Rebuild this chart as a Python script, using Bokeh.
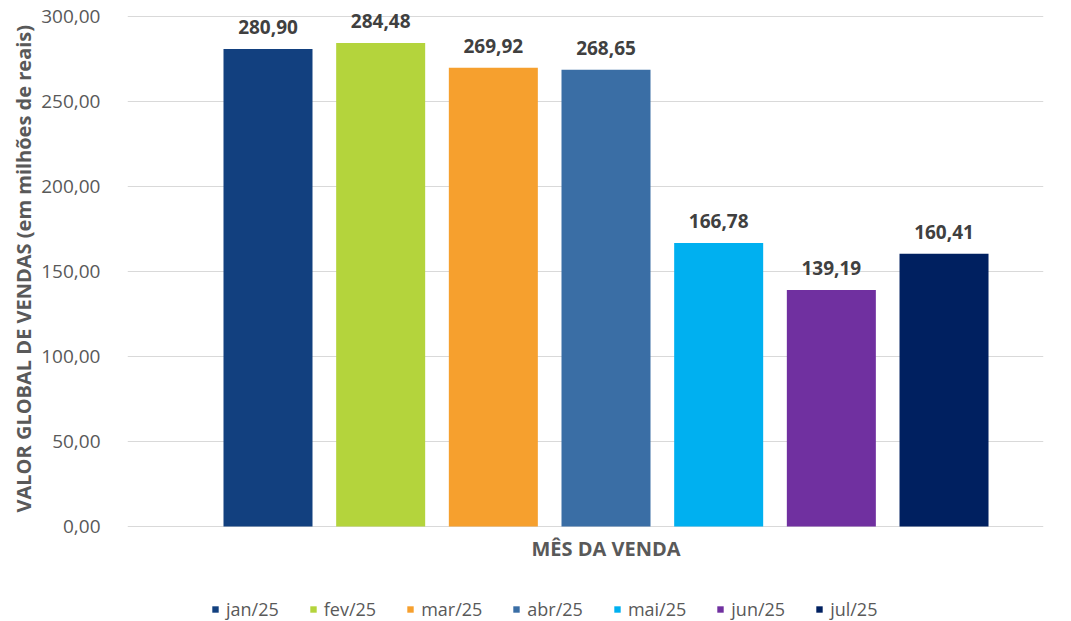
from bokeh.plotting import figure
from bokeh.models import (ColumnDataSource, Range1d, LabelSet, Label, Legend, LegendItem, Title,
                          CustomJSTickFormatter, FixedTicker, CDSView, IndexFilter)
from bokeh.core.properties import value
from bokeh.embed import file_html
from bokeh.resources import INLINE

months = ["jan/25", "fev/25", "mar/25", "abr/25", "mai/25", "jun/25", "jul/25"]
values = [280.90, 284.48, 269.92, 268.65, 166.78, 139.19, 160.41]
colors = ["#12407F", "#B4D43C", "#F6A02E", "#3A6EA5", "#00B0F0", "#7030A0", "#002060"]
y_ticks = [0, 50, 100, 150, 200, 250, 300]
y_title = "VALOR GLOBAL DE VENDAS (em milhões de reais)"
x_title = "MÊS DA VENDA"

labels = [f"{v:.2f}".replace(".", ",") for v in values]
xs = list(range(len(months)))

src = ColumnDataSource(dict(x=xs, value=values, color=colors, month=months, label=labels))

FONT = "Open Sans"

# frame spans from 6px to the bottom of the canvas; 0 -> 526px, 300 -> 16px (1.7 px/unit)
PX = 510 / 300
p = figure(width=1071, height=621, output_backend="svg", toolbar_location=None,
           x_axis_location=None,
           x_range=Range1d(-1.247, 6.883), y_range=Range1d(-95 / PX, 300 + 10 / PX),
           min_border_left=127, min_border_right=28, min_border_top=6, min_border_bottom=0)
p.outline_line_color = None
p.background_fill_color = "white"
p.border_fill_color = "white"

renderers = []
for i in range(len(months)):
    r = p.vbar(x="x", top="value", width=0.79, bottom=0, source=src,
               fill_color=colors[i], line_color=None)
    r.view = CDSView(filter=IndexFilter([i]))
    renderers.append(r)

labelset = LabelSet(x="x", y="value", text="label", source=src, text_align="center",
                    text_baseline="bottom", y_offset=15, text_font=value(FONT),
                    text_font_style="bold", text_font_size="19px", text_color="#404040")
p.add_layout(labelset)

# y axis
p.yaxis.ticker = FixedTicker(ticks=y_ticks)
p.yaxis.formatter = CustomJSTickFormatter(code="return tick.toFixed(2).replace('.', ',');")
p.yaxis.axis_line_color = None
p.yaxis.major_tick_line_color = None
p.yaxis.minor_tick_line_color = None
p.yaxis.major_label_standoff = 21
p.yaxis.major_label_text_font = FONT
p.yaxis.major_label_text_font_size = "19px"
p.yaxis.major_label_text_color = "#595959"

ytitle = Title(text=y_title, align="left", offset=109, standoff=4,
               text_font=FONT, text_font_style="bold", text_font_size="20px",
               text_color="#595959")
p.add_layout(ytitle, "left")

xlabel = Label(x=3, y=73, y_units="screen", text=x_title, text_align="center",
               text_baseline="middle", text_font=FONT, text_font_style="bold",
               text_font_size="20px", text_color="#595959")
p.add_layout(xlabel)

p.xgrid.grid_line_color = None
p.ygrid.ticker = FixedTicker(ticks=y_ticks)
p.ygrid.grid_line_color = "#D9D9D9"
p.ygrid.grid_line_width = 1

items = [LegendItem(label=m, renderers=[renderers[i]]) for i, m in enumerate(months)]
legend = Legend(items=items, orientation="horizontal", location=(84, 0),
                label_text_font=FONT, label_text_font_size="18px", label_text_color="#595959",
                glyph_width=8, glyph_height=8, label_standoff=7, spacing=30,
                padding=0, margin=0, border_line_color=None, background_fill_alpha=0)
p.add_layout(legend)

open("out.html", "w").write(file_html(p, INLINE))
